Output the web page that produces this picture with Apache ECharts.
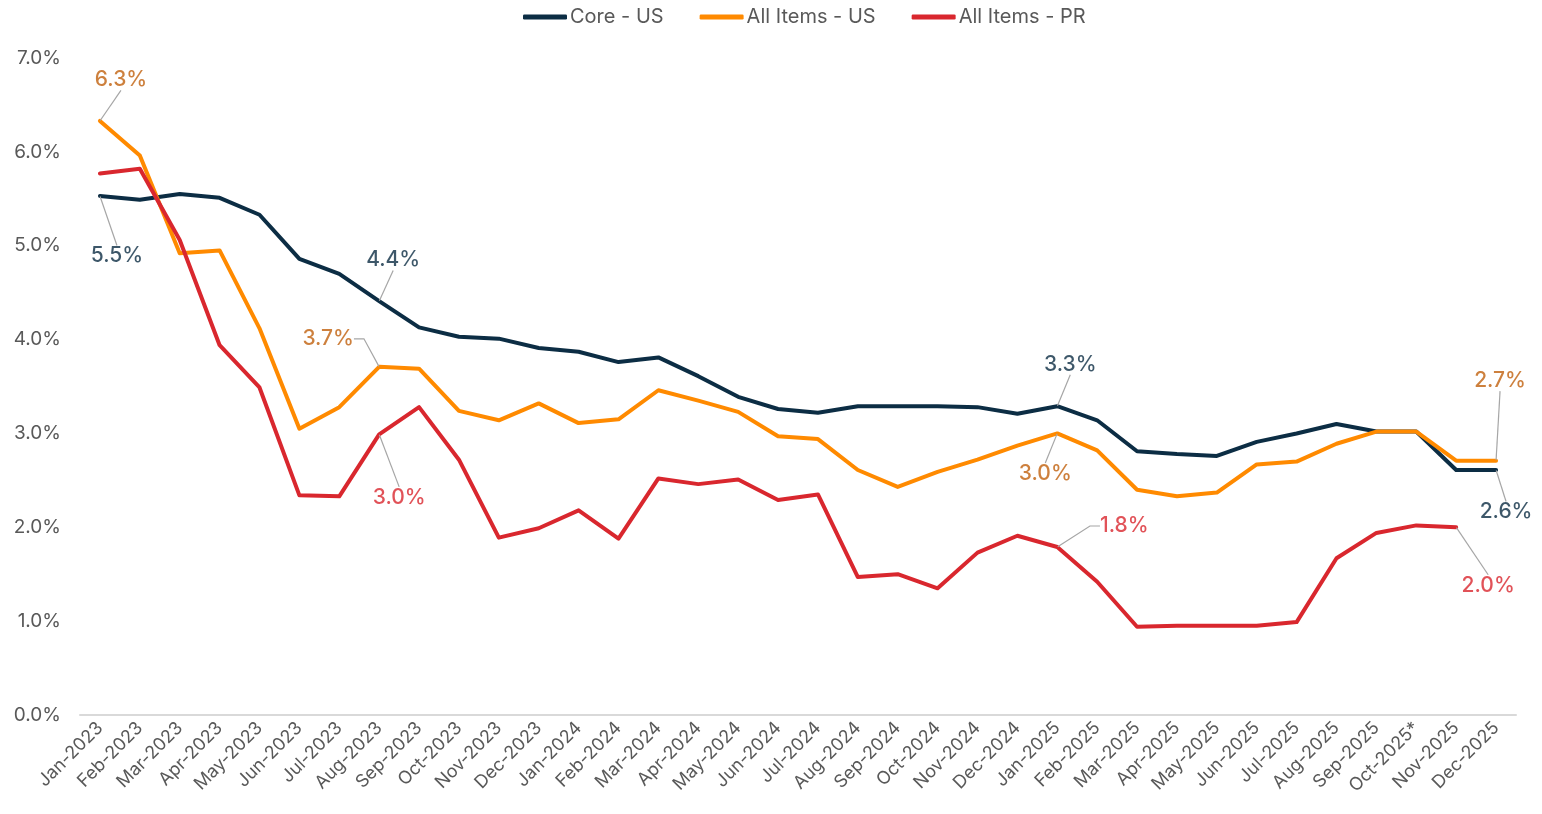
<!DOCTYPE html>
<html>
<head>
<meta charset="utf-8">
<title>Inflation: Core - US, All Items - US, All Items - PR</title>
<script src="https://cdn.jsdelivr.net/npm/echarts@6/dist/echarts.min.js"></script>
<style>
  html, body { margin: 0; padding: 0; background: #ffffff; }
  #chart { width: 1542px; height: 814px; }
</style>
</head>
<body>
<div id="chart"></div>
<script>
// Month categories (Oct-2025 flagged with an asterisk)
const months = [
  'Jan-2023','Feb-2023','Mar-2023','Apr-2023','May-2023','Jun-2023','Jul-2023','Aug-2023','Sep-2023','Oct-2023','Nov-2023','Dec-2023',
  'Jan-2024','Feb-2024','Mar-2024','Apr-2024','May-2024','Jun-2024','Jul-2024','Aug-2024','Sep-2024','Oct-2024','Nov-2024','Dec-2024',
  'Jan-2025','Feb-2025','Mar-2025','Apr-2025','May-2025','Jun-2025','Jul-2025','Aug-2025','Sep-2025','Oct-2025*','Nov-2025','Dec-2025'
];

// Year-over-year change, percent
const coreUS = [
  5.53, 5.49, 5.55, 5.51, 5.33, 4.86, 4.70, 4.41, 4.13, 4.03, 4.01, 3.91,
  3.87, 3.76, 3.81, 3.61, 3.39, 3.26, 3.22, 3.29, 3.29, 3.29, 3.28, 3.21,
  3.29, 3.14, 2.81, 2.78, 2.76, 2.91, 3.00, 3.10, 3.02, 3.02, 2.61, 2.61
];
const allItemsUS = [
  6.33, 5.96, 4.92, 4.95, 4.12, 3.05, 3.28, 3.71, 3.69, 3.24, 3.14, 3.32,
  3.11, 3.15, 3.46, 3.35, 3.23, 2.97, 2.94, 2.61, 2.43, 2.59, 2.72, 2.87,
  3.00, 2.82, 2.40, 2.33, 2.37, 2.67, 2.70, 2.89, 3.02, 3.02, 2.71, 2.71
];
const allItemsPR = [
  5.77, 5.82, 5.06, 3.94, 3.49, 2.34, 2.33, 2.99, 3.28, 2.72, 1.89, 1.99,
  2.18, 1.88, 2.52, 2.46, 2.51, 2.29, 2.35, 1.47, 1.50, 1.35, 1.73, 1.91,
  1.79, 1.42, 0.94, 0.95, 0.95, 0.95, 0.99, 1.67, 1.94, 2.02, 2.00, null
];

// Y-axis scale (percent)
const yMin = 0, yMax = 7, yStep = 1;

const FONT = 'Inter, "Noto Sans", sans-serif';
const GREY_TEXT = '#595959';

const seriesDefs = [
  { name: 'Core - US',      data: coreUS,     line: '#0c2d44', label: '#0c2d44' },
  { name: 'All Items - US', data: allItemsUS, line: '#ff8a00', label: '#c0600c' },
  { name: 'All Items - PR', data: allItemsPR, line: '#d9272e', label: '#d9272e' }
];

// Callouts: which series / month gets a value label, and where the label sits
// relative to its point (pixels). `elbow` adds a short horizontal leg to the leader.
const callouts = [
  { s: 1, i: 0,  dx: 21,  dy: -41 },
  { s: 0, i: 0,  dx: 17,  dy: 60 },
  { s: 0, i: 7,  dx: 14,  dy: -41 },
  { s: 1, i: 7,  dx: -51, dy: -28, elbow: 10 },
  { s: 2, i: 7,  dx: 20,  dy: 63 },
  { s: 0, i: 24, dx: 13,  dy: -42 },
  { s: 1, i: 24, dx: -12, dy: 40 },
  { s: 2, i: 24, dx: 67,  dy: -21, elbow: 10 },
  { s: 1, i: 35, dx: 4,   dy: -80 },
  { s: 0, i: 35, dx: 10,  dy: 42 },
  { s: 2, i: 34, dx: 32,  dy: 58 }
];

const lineSeries = seriesDefs.map(d => ({
  name: d.name,
  type: 'line',
  data: d.data,
  showSymbol: false,
  symbol: 'none',
  connectNulls: false,
  lineStyle: { color: d.line, width: 4, cap: 'round', join: 'round' },
  itemStyle: { color: d.line },
  emphasis: { disabled: true },
  z: 2
}));

const calloutSeries = {
  name: 'callouts',
  type: 'scatter',
  silent: true,
  z: 5,
  symbol: 'circle',
  symbolSize: 1,
  itemStyle: { color: 'rgba(0,0,0,0)' },
  label: {
    show: true,
    position: 'inside',
    fontFamily: FONT,
    fontSize: 21,
    fontWeight: 500,
    padding: [5, 6],
    formatter: p => p.value[1].toFixed(1) + '%'
  },
  labelLine: {
    show: true,
    length2: 0,
    lineStyle: { color: '#a6a6a6', width: 1.2 }
  },
  labelLayout: p => {
    const c = callouts[p.dataIndex];
    return { dx: c.dx, dy: c.dy };
  },
  data: callouts.map(c => {
    const def = seriesDefs[c.s];
    return {
      value: [months[c.i], def.data[c.i]],
      label: { color: def.label },
      labelLine: { length2: c.elbow || 0 }
    };
  })
};

const chart = echarts.init(document.getElementById('chart'), null, { renderer: 'canvas' });

chart.setOption({
  animation: false,
  backgroundColor: '#ffffff',
  textStyle: { fontFamily: FONT },
  legend: {
    data: seriesDefs.map(d => d.name),
    icon: 'roundRect',
    top: 2,
    left: 518,
    itemWidth: 44,
    itemHeight: 5,
    itemGap: 36,
    textStyle: { color: GREY_TEXT, fontSize: 20, fontFamily: FONT, padding: [0, 0, 0, -2] },
    selectedMode: false
  },
  grid: { left: 80, right: 26, top: 58, bottom: 99, containLabel: false },
  xAxis: {
    type: 'category',
    data: months,
    boundaryGap: true,
    axisLine: { show: true, lineStyle: { color: '#d9d9d9', width: 2 } },
    axisTick: { show: false },
    axisLabel: {
      interval: 0,
      rotate: 45,
      margin: 10,
      color: GREY_TEXT,
      fontSize: 18,
      fontFamily: FONT
    },
    splitLine: { show: false }
  },
  yAxis: {
    type: 'value',
    min: yMin,
    max: yMax,
    interval: yStep,
    axisLine: { show: false },
    axisTick: { show: false },
    splitLine: { show: false },
    axisLabel: {
      margin: 19,
      color: GREY_TEXT,
      fontSize: 19,
      fontFamily: FONT,
      formatter: v => v.toFixed(1) + '%'
    }
  },
  series: [...lineSeries, calloutSeries]
});
</script>
</body>
</html>
